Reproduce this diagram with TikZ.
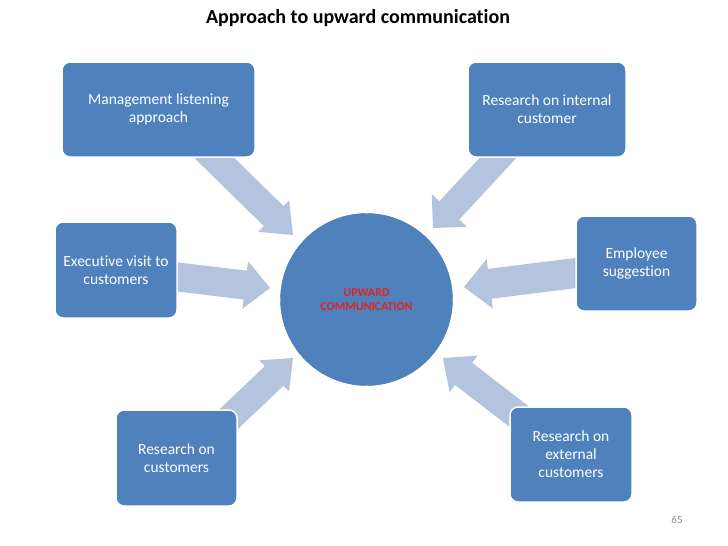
\documentclass[tikz,border=0pt]{standalone}
\usepackage{fontspec}
\setmainfont[Ligatures={NoCommon}]{Carlito}
\usetikzlibrary{calc}
\definecolor{boxblue}{HTML}{4F81BD}
\definecolor{arrowblue}{HTML}{B4C4DF}
\definecolor{redtxt}{HTML}{DD2424}
\definecolor{numgray}{HTML}{8C8C8C}
% #1 start, #2 tip, #3 half shaft width, #4 half head width, #5 head length, #6 name
\newcommand\blkarrow[6]{%
  \coordinate (#6h) at ($(#2)!#5!(#1)$);
  \fill[arrowfill] ($(#1)!#3!90:(#2)$) -- ($(#6h)!#3!90:(#2)$) -- ($(#6h)!#4!90:(#2)$)
    -- (#2) -- ($(#6h)!#4!-90:(#2)$) -- ($(#6h)!#3!-90:(#2)$) -- ($(#1)!#3!-90:(#2)$) -- cycle;
}
\begin{document}
\begin{tikzpicture}[x=1pt,y=-1pt,
  arrowfill/.style={fill=arrowblue},
  bluebox/.style={draw=white, line width=1.5pt, fill=boxblue, rounded corners=8pt,
    text=white, align=center, inner sep=2pt,
    font=\fontsize{15.5}{18}\selectfont},
  hub/.style={circle, fill=boxblue, draw=boxblue!92!black, line width=0.4pt,
    minimum size=172pt, inner sep=0pt, align=center, text=redtxt,
    font=\bfseries\fontsize{12}{14}\selectfont},
  titletext/.style={font=\bfseries\fontsize{20}{24}\selectfont, text=black},
  pagenum/.style={font=\fontsize{11}{13}\selectfont, text=numgray}]
\useasboundingbox (0,0) rectangle (728,546);
\fill[white] (0,0) rectangle (728,546);

% arrow end points
\coordinate (s1) at (200,144);   \coordinate (t1) at (293,235);
\coordinate (s2) at (509,146);   \coordinate (t2) at (433,228);
\coordinate (s3) at (165,275.5); \coordinate (t3) at (270,288);
\coordinate (s4) at (588,271.5); \coordinate (t4) at (464,287);
\coordinate (s5) at (222.8,424.8); \coordinate (t5) at (293,358);
\coordinate (s6) at (530,425);   \coordinate (t6) at (443,358);

\blkarrow{s1}{t1}{14pt}{22pt}{27pt}{a1}
\blkarrow{s2}{t2}{13.5pt}{24pt}{24pt}{a2}
\blkarrow{s3}{t3}{14.5pt}{24pt}{25pt}{a3}
\blkarrow{s4}{t4}{15pt}{25pt}{26pt}{a4}
\blkarrow{s5}{t5}{13.5pt}{21.5pt}{26pt}{a5}
\blkarrow{s6}{t6}{14pt}{23pt}{26pt}{a6}

\node[titletext] (title) at (358,18) {Approach to upward communication};

\node[bluebox, minimum width=193pt, minimum height=95pt] (b1) at (158.5,109.5)
  {Management listening\\approach};
\node[bluebox, minimum width=158pt, minimum height=95pt] (b2) at (547,109.5)
  {Research on internal\\customer};
\node[bluebox, minimum width=122pt, minimum height=96pt] (b3) at (116,270)
  {Executive visit to\\customers};
\node[bluebox, minimum width=121pt, minimum height=95pt] (b4) at (636.5,263.5)
  {Employee\\suggestion};
\node[bluebox, minimum width=121pt, minimum height=96pt] (b5) at (176.5,458)
  {Research on\\customers};
\node[bluebox, minimum width=122pt, minimum height=95pt] (b6) at (571,454.5)
  {Research on\\external\\customers};

\node[hub] (hub) at (366.5,299.5) {UPWARD\\COMMUNICATION};

\node[pagenum] (pg) at (677,520) {65};
\end{tikzpicture}
\end{document}
